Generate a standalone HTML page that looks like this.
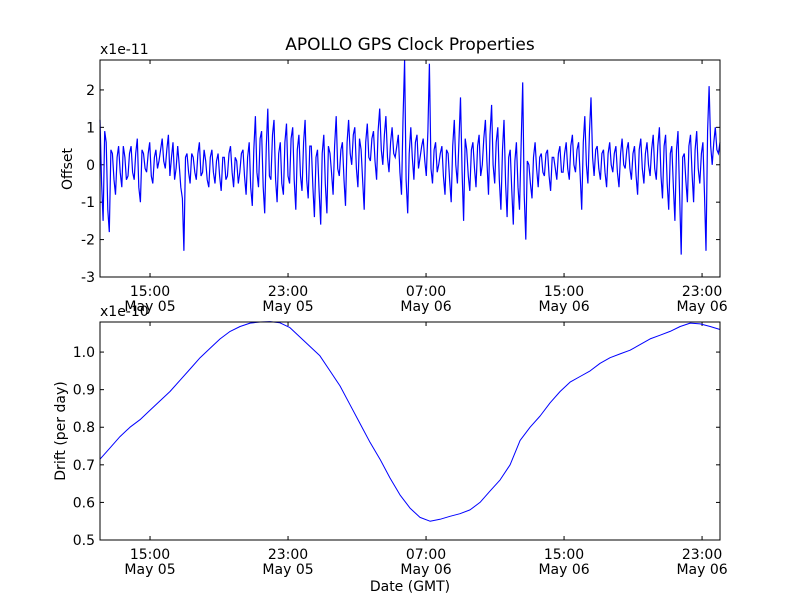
<!DOCTYPE html>
<html><head><meta charset="utf-8"><style>
body{margin:0;background:#fff}
svg text{font-family:"DejaVu Sans","Liberation Sans",sans-serif;font-size:14px;fill:#000}
</style></head><body>
<svg id="c" width="800" height="600" xmlns="http://www.w3.org/2000/svg"></svg>
<script>
const offsetStartHour = 12.1;
const offsetEndHour = 48.04;
const offsetValues = [
1.2,-1.5,0.6,-1.8,0.3,-0.8,0.5,-0.6,0.2,-0.3,
0.5,-0.4,0.7,-1.0,0.3,-0.2,0.6,-0.5,0.4,0.1,
0.7,-0.1,0.8,0.2,-0.4,0.5,-0.6,-2.3,0.3,-0.5,
0.2,-0.4,0.6,-0.2,0.1,-0.6,0.4,-0.5,0.3,-0.7,
0.2,-0.3,0.5,-0.6,0.1,-0.2,0.4,-0.8,0.6,-1.1,
1.3,-0.6,0.9,-1.3,1.5,-0.4,1.2,-1.0,0.6,-0.8,
1.1,-0.5,1.0,-1.2,0.8,-0.7,1.2,-0.9,0.5,-1.4,
0.4,-1.6,0.8,-1.3,0.3,-0.8,1.3,-0.3,0.6,-1.1,
1.2,0.0,1.0,-0.6,0.4,-1.2,1.1,0.1,0.9,-0.4,
1.5,0.0,1.3,-0.2,1.0,0.2,0.8,-0.8,2.8,-1.3,
1.0,-0.4,0.8,0.2,0.7,-0.3,2.7,-0.5,0.6,0.0,
0.5,-0.8,0.3,-1.0,1.2,-0.5,1.8,-1.5,0.4,-0.7,
0.6,-0.6,0.8,0.0,1.2,-0.8,1.6,-0.5,1.0,-1.2,
1.2,-1.4,0.4,-1.6,0.6,-1.2,2.2,-2.0,0.0,-0.9,
0.6,-0.6,0.3,-0.3,0.4,-0.7,0.2,-0.4,0.5,-0.2,
0.6,-0.4,0.8,-0.2,0.6,-1.2,1.3,-0.5,1.8,-0.3,
0.5,-0.4,0.4,-0.6,0.6,-0.2,0.5,-0.6,0.7,-0.1,
0.6,-0.4,0.5,-0.8,0.7,-0.5,0.6,-0.3,0.8,-0.4,
1.0,-0.9,0.8,-1.2,0.5,-1.5,0.9,-2.4,0.3,-1.0,
0.8,-1.0,0.9,-0.5,0.6,-2.3,2.1,0.0,1.0,0.3];
const offsetMidValues = [
-0.5,0.9,-1.2,0.4,-0.4,0.2,-0.2,0.5,-0.4,0.3,
-0.2,0.3,-0.6,0.4,-0.1,0.3,-0.3,0.2,-0.1,0.4,
0.1,0.4,-0.3,0.6,-0.1,0.0,-0.9,0.2,-0.2,0.3,
-0.2,0.3,-0.3,0.4,-0.4,0.2,-0.2,0.1,-0.3,0.2,
-0.4,0.3,-0.2,0.2,-0.5,0.3,-0.3,0.2,-0.6,0.4,
-0.2,0.7,-0.6,0.5,-0.3,0.8,-0.4,0.3,-0.5,0.6,
-0.3,0.7,-0.4,0.4,-0.3,0.6,-0.4,0.5,-0.6,0.2,
-0.7,0.3,-0.5,0.5,-0.2,0.5,-0.1,0.4,-0.4,0.6,
0.3,0.8,-0.1,0.7,-0.4,0.6,0.2,0.7,0.1,0.9,
0.4,0.8,0.2,0.6,0.3,0.5,-0.2,1.2,-0.4,0.3,
0.2,0.6,-0.1,0.5,0.1,0.9,-0.1,0.4,-0.2,0.3,
-0.3,0.4,-0.4,0.5,0.0,0.6,-0.2,0.7,-0.3,0.4,
-0.1,0.5,-0.3,0.7,0.1,0.8,0.0,0.6,-0.4,0.4,
-0.5,0.2,-0.7,0.1,-0.6,0.5,-0.8,0.1,-0.5,0.2,
-0.1,0.2,-0.2,0.3,-0.3,0.2,-0.1,0.3,-0.2,0.3,
-0.1,0.5,0.0,0.4,-0.3,0.6,0.0,0.9,0.2,0.4,
-0.1,0.3,-0.2,0.3,0.0,0.3,-0.2,0.3,0.0,0.4,
-0.1,0.3,-0.3,0.4,-0.1,0.3,0.0,0.4,-0.1,0.5,
-0.3,0.5,-0.5,0.3,-0.6,0.4,-0.8,0.2,-0.4,0.5,
-0.2,0.4,-0.1,0.3,-0.8,0.9,0.5,0.6,0.4,0.6];
const driftHours = [12.10,12.68,13.26,13.84,14.42,15.00,15.58,16.16,16.74,17.32,17.90,18.48,19.06,19.64,20.22,20.80,21.38,21.96,22.53,23.11,23.69,24.27,24.85,25.43,26.01,26.59,27.17,27.75,28.33,28.91,29.49,30.07,30.65,31.23,31.81,32.39,32.97,33.55,34.13,34.71,35.29,35.87,36.45,37.03,37.61,38.19,38.77,39.35,39.93,40.51,41.09,41.67,42.25,42.83,43.41,43.99,44.57,45.15,45.73,46.31,46.89,47.47,48.04];
const driftValues = [0.715,0.745,0.775,0.80,0.82,0.845,0.87,0.895,0.925,0.955,0.985,1.01,1.035,1.055,1.068,1.077,1.08,1.081,1.078,1.065,1.04,1.015,0.99,0.95,0.91,0.86,0.81,0.76,0.715,0.665,0.62,0.585,0.56,0.55,0.555,0.563,0.57,0.58,0.60,0.63,0.66,0.70,0.765,0.80,0.83,0.865,0.895,0.92,0.935,0.95,0.97,0.985,0.995,1.005,1.02,1.035,1.045,1.055,1.068,1.077,1.075,1.068,1.06];
const xTickHours = [15,23,31,39,47];
const xTickTimes = ["15:00","23:00","07:00","15:00","23:00"];
const xTickDates = ["May 05","May 05","May 06","May 06","May 06"];
const offsetTicks = [-3,-2,-1,0,1,2];
const driftTicks = [0.5,0.6,0.7,0.8,0.9,1.0];

const svg=document.getElementById('c');
const NS='http://www.w3.org/2000/svg';
function mk(t,a,p){const e=document.createElementNS(NS,t);for(const k in a)e.setAttribute(k,a[k]);(p||svg).appendChild(e);return e;}
const L=100,R=720;
const xs=h=>L+(h-offsetStartHour)/(offsetEndHour-offsetStartHour)*(R-L);
const axTop={t:60,b:277,lo:-3,hi:2.8};
const axBot={t:322,b:540,lo:0.5,hi:1.08};
const ys=(ax,v)=>ax.b-(v-ax.lo)/(ax.hi-ax.lo)*(ax.b-ax.t);

function axes(ax,ticks,fmt,name){
  const g=mk('g',{});
  
  
  xTickHours.forEach((h,i)=>{
    const x=xs(h);
    mk('line',{x1:x,x2:x,y1:ax.b,y2:ax.b-4,stroke:'#000'},g);
    mk('line',{x1:x,x2:x,y1:ax.t,y2:ax.t+4,stroke:'#000'},g);
    const t1=mk('text',{x:x,y:ax.b+19,'text-anchor':'middle'},g);t1.textContent=xTickTimes[i];
    
    
    const t2=mk('text',{x:x,y:ax.b+34,'text-anchor':'middle'},g);t2.textContent=xTickDates[i];
    
    
  });
  ticks.forEach(v=>{
    const y=ys(ax,v);
    mk('line',{x1:L,x2:L+4,y1:y,y2:y,stroke:'#000'},g);
    mk('line',{x1:R,x2:R-4,y1:y,y2:y,stroke:'#000'},g);
    const t=mk('text',{x:L-5,y:y+5,'text-anchor':'end'},g);t.textContent=fmt(v);
    
    
  });
  return g;
}
function frame(ax,name){
  const r=mk('rect',{x:L,y:ax.t,width:R-L,height:ax.b-ax.t,fill:'none',stroke:'#000'});
  
  
}
axes(axTop,offsetTicks,v=>String(v),'offset');
const series=[];
offsetValues.forEach((v,i)=>{series.push(v);series.push(offsetMidValues[i]);});
let d='';const n=series.length;
series.forEach((v,i)=>{const h=offsetStartHour+i*(offsetEndHour-offsetStartHour)/(n-1);d+=(i?'L':'M')+xs(h).toFixed(1)+' '+Math.max(axTop.t,ys(axTop,v)).toFixed(1);});
const p1=mk('path',{d:d,fill:'none',stroke:'#0000ff','stroke-width':1.2});


frame(axTop,'offset');
axes(axBot,driftTicks,v=>v.toFixed(1),'drift');
d='';
driftValues.forEach((v,i)=>{d+=(i?'L':'M')+xs(driftHours[i]).toFixed(1)+' '+ys(axBot,v).toFixed(1);});
const p2=mk('path',{d:d,fill:'none',stroke:'#0000ff','stroke-width':1,'stroke-linejoin':'round'});


frame(axBot,'drift');
</script>
<svg width="800" height="600" style="position:absolute;left:0;top:0">
<text x="410" y="50" text-anchor="middle" style="font-size:17px">APOLLO GPS Clock Properties</text>
<text x="100" y="54">x1e-11</text>
<text x="100" y="316">x1e-10</text>
<text x="0" y="0" transform="translate(72,169) rotate(-90)" text-anchor="middle">Offset</text>
<text x="0" y="0" transform="translate(65,431) rotate(-90)" text-anchor="middle">Drift (per day)</text>
<text x="410" y="591" text-anchor="middle">Date (GMT)</text>
</svg>
</body></html>
